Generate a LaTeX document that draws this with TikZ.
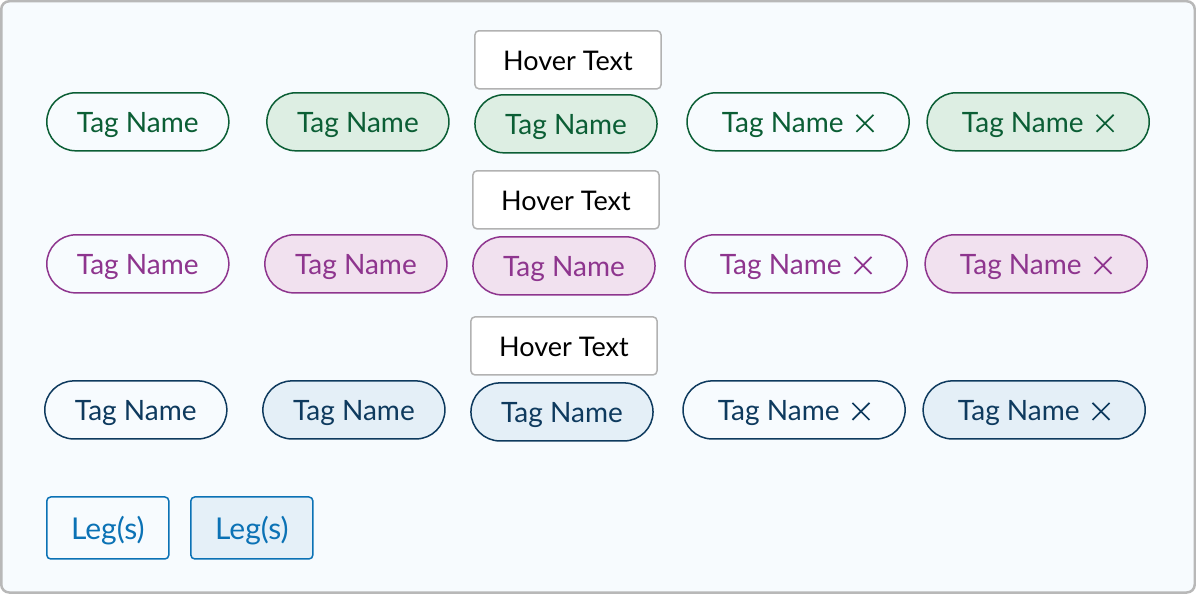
\documentclass[tikz,border=0pt]{standalone}
\usepackage{fontspec}
\setmainfont{Lato}
\definecolor{gline}{HTML}{0B5E35}\definecolor{gfill}{HTML}{DDEEE3}
\definecolor{pline}{HTML}{8E358E}\definecolor{pfill}{HTML}{F1E1EF}
\definecolor{nline}{HTML}{0E3A5E}\definecolor{nfill}{HTML}{E4EFF7}
\definecolor{lline}{HTML}{0B72B5}\definecolor{lfill}{HTML}{E5F0F8}
\definecolor{bgcol}{HTML}{F7FBFE}
\newcommand{\closemark}{\tikz[baseline=-1pt,line width=1.7pt]{\draw (0,0) -- (17pt,17pt) (0,17pt) -- (17pt,0);}}
\tikzset{
  tag/.style={draw=#1, line width=1.5pt, rounded corners=29pt, text=#1,
    minimum height=58pt, inner sep=0pt, text height=22pt, text depth=0pt,
    font=\fontsize{28}{32}\selectfont},
  hover/.style={draw=black!30, fill=white, line width=1.5pt, rounded corners=4pt,
    minimum width=186pt, minimum height=58pt, text height=22pt, text depth=0pt,
    font=\fontsize{27}{32}\selectfont},
  legbox/.style={draw=lline, line width=1.5pt, rounded corners=4pt, text=lline,
    minimum width=122pt, minimum height=62pt, text height=23pt, text depth=0pt,
    font=\fontsize{30}{34}\selectfont}
}
\begin{document}
\begin{tikzpicture}[x=1pt,y=-1pt]
  \path[use as bounding box, draw=black!28, fill=bgcol, line width=2.5pt, rounded corners=8pt]
    (1.5,1.5) rectangle (1194.5,592.5);
  % rows of tags
  \foreach \r/\y/\da/\dx/\lc/\fc in {a/122/0/0/gline/gfill, b/264/0/-2/pline/pfill, c/410/-2/-4/nline/nfill}{
    \node[tag=\lc, minimum width=182pt] (\r1) at (138+\da,\y) {Tag Name};
    \node[tag=\lc, fill=\fc, minimum width=182pt] (\r2) at (358+\dx,\y) {Tag Name};
    \node[tag=\lc, fill=\fc, minimum width=182pt] (\r3) at (566+\dx,\y+2) {Tag Name};
    \node[tag=\lc, minimum width=222pt] (\r4) at (798+\dx,\y) {Tag Name\hspace{12pt}\closemark};
    \node[tag=\lc, fill=\fc, minimum width=222pt] (\r5) at (1038+\dx,\y) {Tag Name\hspace{12pt}\closemark};
  }
  \node[hover] (ha) at (568,60) {Hover Text};
  \node[hover] (hb) at (566,200) {Hover Text};
  \node[hover] (hc) at (564,346) {Hover Text};
  % legs
  \node[legbox] (leg1) at (108,528) {Leg(s)};
  \node[legbox, fill=lfill] (leg2) at (252,528) {Leg(s)};
\end{tikzpicture}
\end{document}
